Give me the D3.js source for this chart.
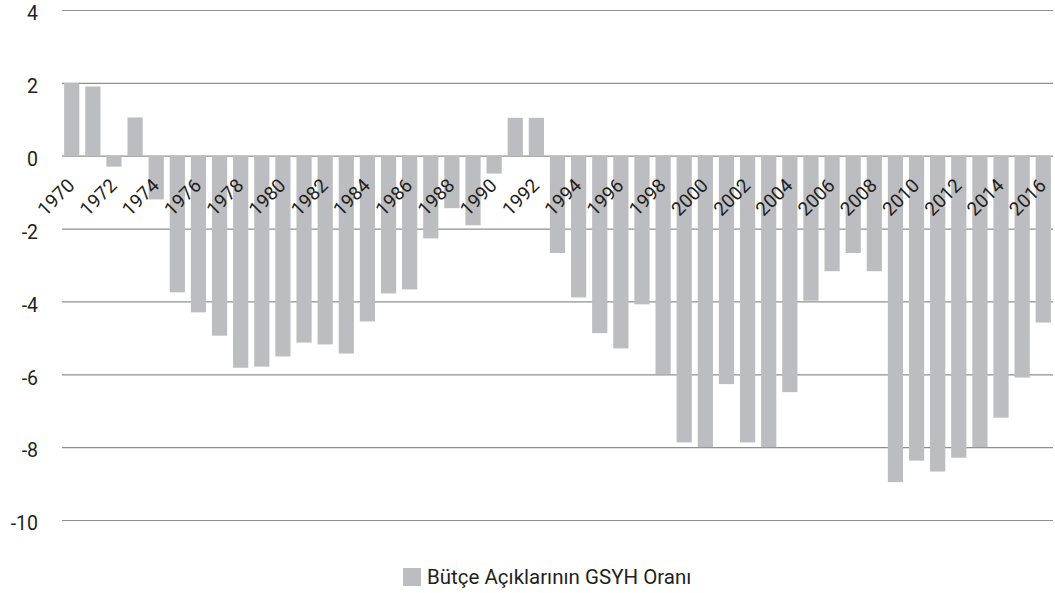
<!DOCTYPE html>
<html>
<head>
<meta charset="utf-8">
<script src="https://cdn.jsdelivr.net/npm/d3@7"></script>
<style>
  html, body { margin: 0; padding: 0; background: #fff; }
  svg { display: block; }
  text { font-family: Roboto, "DejaVu Sans", sans-serif; fill: #231f20; }
</style>
</head>
<body>
<svg id="chart" width="1055" height="593"></svg>
<script>
const years = [1970,1971,1972,1973,1974,1975,1976,1977,1978,1979,1980,1981,1982,1983,1984,1985,1986,1987,1988,1989,1990,1991,1992,1993,1994,1995,1996,1997,1998,1999,2000,2001,2002,2003,2004,2005,2006,2007,2008,2009,2010,2011,2012,2013,2014,2015,2016];
const deficitRatio = [2.0,1.9,-0.3,1.05,-1.2,-3.75,-4.3,-4.94,-5.82,-5.79,-5.51,-5.13,-5.18,-5.43,-4.55,-3.78,-3.67,-2.27,-1.44,-1.91,-0.49,1.04,1.04,-2.67,-3.89,-4.87,-5.29,-4.08,-5.99,-7.87,-8.0,-6.27,-7.87,-8.0,-6.49,-3.98,-3.17,-2.67,-3.17,-8.96,-8.37,-8.67,-8.29,-8.0,-7.19,-6.09,-4.58];
const yTicks = [4,2,0,-2,-4,-6,-8,-10];
const xTickLabels = years.filter(y => y % 2 === 0);
const seriesName = "Bütçe Açıklarının GSYH Oranı";

const svg = d3.select("#chart");
const plotLeft = 62, plotRight = 1053, plotTop = 10, plotBottom = 520;

const x = d3.scaleBand().domain(years).range([plotLeft, plotRight]).paddingInner(0.28).paddingOuter(0.1);
const y = d3.scaleLinear().domain([-10, 4]).range([plotBottom, plotTop]);

// gridlines
const grid = svg.append("g")
  .attr("transform", `translate(${plotLeft},0)`)
  .call(d3.axisLeft(y).tickValues(yTicks).tickSize(-(plotRight - plotLeft)).tickFormat(""));
grid.select(".domain").remove();
grid.selectAll("line").attr("stroke", "#8f8f8f").attr("stroke-width", 1.2);

// y labels
const yAxis = svg.append("g")
  .attr("transform", `translate(38,0)`)
  .call(d3.axisLeft(y).tickValues(yTicks).tickSize(0).tickPadding(0).tickFormat(d3.format("d")));
yAxis.select(".domain").remove();
yAxis.selectAll("text")
  .attr("font-family", "Roboto, sans-serif")
  .attr("font-size", 19.5)
  .attr("fill", "#231f20")
  .attr("dy", "0.5em")
  .attr("text-anchor", "end")
  .text(d => d < 0 ? "-" + Math.abs(d) : d);

// bars
svg.append("g").selectAll("rect").data(years).join("rect")
  .attr("x", d => x(d))
  .attr("width", x.bandwidth())
  .attr("y", (d, i) => y(Math.max(0, deficitRatio[i])))
  .attr("height", (d, i) => Math.abs(y(deficitRatio[i]) - y(0)))
  .attr("fill", "#bcbdc1");

// x labels (every other year), rotated -45deg, ending at each band centre
const xAxis = svg.append("g")
  .attr("transform", `translate(0,${y(0)})`)
  .call(d3.axisBottom(x).tickValues(xTickLabels).tickSize(0).tickPadding(0));
xAxis.select(".domain").remove();
xAxis.selectAll(".tick text")
  .attr("font-family", "Roboto, sans-serif")
  .attr("font-size", 19)
  .attr("fill", "#231f20")
  .attr("text-anchor", "end")
  .attr("x", 0)
  .attr("y", 0)
  .attr("dy", 0)
  .attr("transform", "translate(4,31) rotate(-45)");

// legend
const legend = svg.append("g").attr("transform", "translate(403,568)");
legend.append("rect").attr("width", 18).attr("height", 18).attr("fill", "#bcbdc1");
legend.append("text")
  .attr("x", 24).attr("y", 16)
  .attr("font-size", 20.5)
  .attr("fill", "#231f20")
  .text(seriesName);
</script>
</body>
</html>
